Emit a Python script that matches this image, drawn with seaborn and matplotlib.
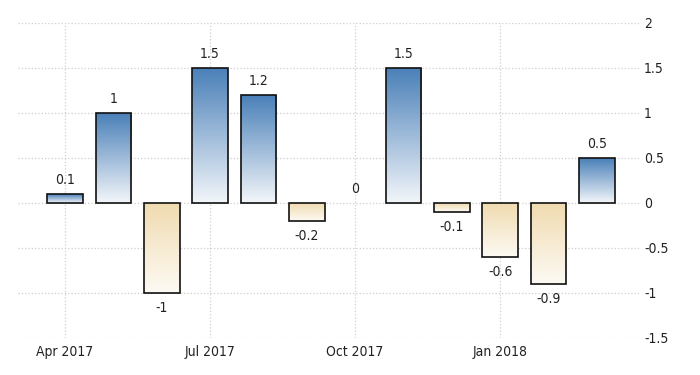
import numpy as np
import matplotlib
matplotlib.use('Agg')
import matplotlib.pyplot as plt
import seaborn as sns
from matplotlib.colors import LinearSegmentedColormap

months = ['Apr 2017', 'May 2017', 'Jun 2017', 'Jul 2017', 'Aug 2017', 'Sep 2017',
          'Oct 2017', 'Nov 2017', 'Dec 2017', 'Jan 2018', 'Feb 2018', 'Mar 2018']
values = [0.1, 1, -1, 1.5, 1.2, -0.2, 0, 1.5, -0.1, -0.6, -0.9, 0.5]
xtick_labels = ['Apr 2017', 'Jul 2017', 'Oct 2017', 'Jan 2018']
yticks = [-1.5, -1, -0.5, 0, 0.5, 1, 1.5, 2]

sns.set_style('white')
plt.rcParams['font.family'] = ['DejaVu Sans']
plt.rcParams['font.stretch'] = 'condensed'
plt.rcParams['axes.unicode_minus'] = False

fig = plt.figure(figsize=(7, 3.75), dpi=100)
ax = fig.add_axes([0.026, 0.0987, 0.888, 0.84])

sns.barplot(x=months, y=values, ax=ax, width=0.74, fill=False,
            edgecolor='#111111', linewidth=1.2, err_kws={'linewidth': 0})

blue = LinearSegmentedColormap.from_list('b', ['#f3f6fa', '#4a80b8'])
tan = LinearSegmentedColormap.from_list('t', ['#fdfaf4', '#f0dbb0'])
grad = np.linspace(0, 1, 256).reshape(-1, 1)

for patch, v in zip(ax.patches, values):
    x0, y0 = patch.get_x(), patch.get_y()
    w, h = patch.get_width(), patch.get_height()
    if h == 0:
        patch.set_visible(False)
        continue
    lo, hi = min(y0, y0 + h), max(y0, y0 + h)
    cmap = blue if v > 0 else tan
    im = ax.imshow(grad, cmap=cmap, aspect='auto', origin='lower',
                   extent=[x0, x0 + w, lo, hi], zorder=1)
    im.set_clip_path(patch)
    patch.set_zorder(2)

for i, v in enumerate(values):
    if v >= 0:
        ax.annotate(f'{v:g}', (i, v), xytext=(0, 5), textcoords='offset points',
                    ha='center', va='bottom', fontsize=10, color='#222222')
    else:
        ax.annotate(f'{v:g}', (i, v), xytext=(0, -6), textcoords='offset points',
                    ha='center', va='top', fontsize=10, color='#222222')

ax.set_xlim(-0.97, 11.89)
ax.set_ylim(-1.5, 2)
ax.set_yticks(yticks)
ax.set_yticklabels([f'{t:g}' for t in yticks])
ax.yaxis.tick_right()
ax.set_xticks([months.index(m) for m in xtick_labels])
ax.set_xticklabels(xtick_labels)
ax.tick_params(axis='both', length=0, labelsize=10, colors='#222222')
ax.tick_params(axis='y', pad=3)
ax.tick_params(axis='x', pad=5)

ax.grid(True, linestyle=':', color='#cfcfcf', linewidth=0.9)
ax.set_axisbelow(True)
for s in ax.spines.values():
    s.set_visible(False)

fig.savefig('out.png', dpi=100)
